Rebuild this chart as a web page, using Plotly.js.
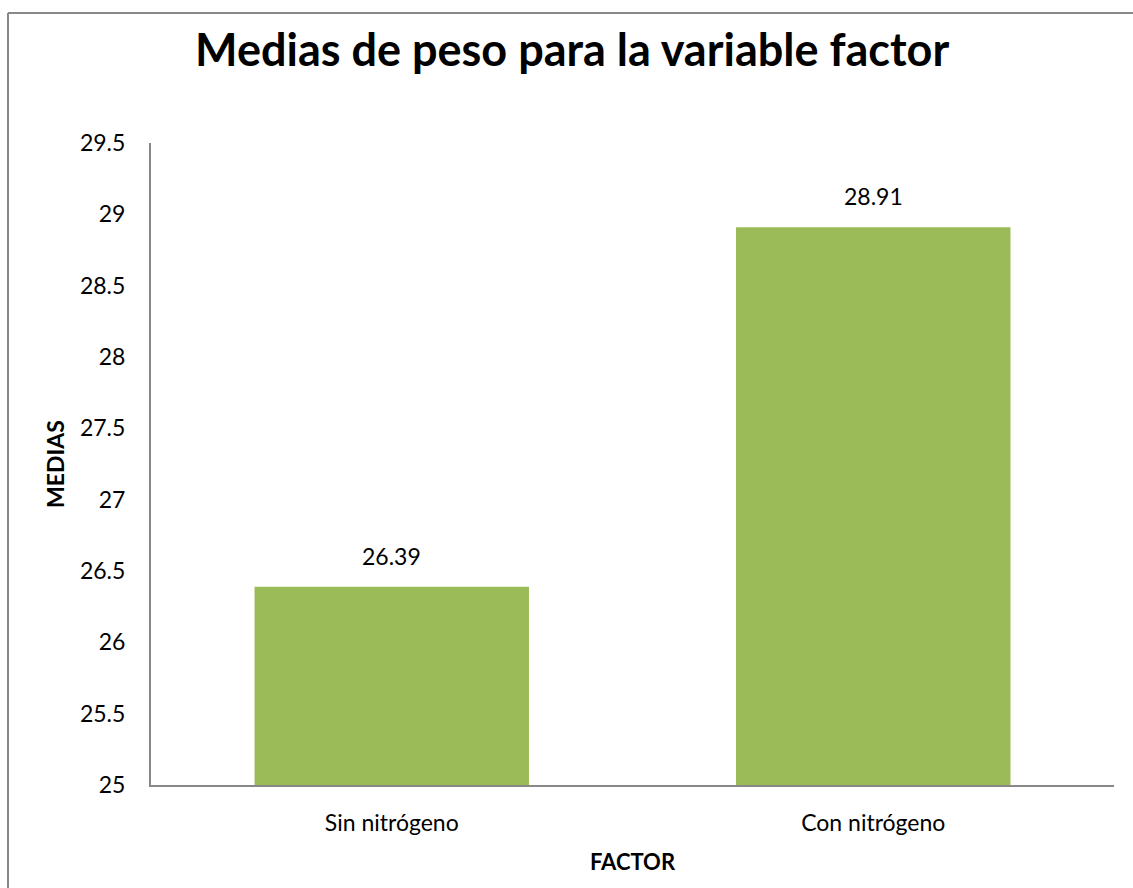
<!DOCTYPE html>
<html>
<head>
<meta charset="utf-8">
<script src="https://cdn.plot.ly/plotly-3.0.1.min.js"></script>
<style>
html,body{margin:0;padding:0;background:#fff;}
#chart{width:1133px;height:888px;}
</style>
</head>
<body>
<div id="chart"></div>
<script>
const categories = ["Sin nitrógeno", "Con nitrógeno"];
const values = [26.39, 28.91];
const labels = ["26.39", "28.91"];
const yTicks = [25, 25.5, 26, 26.5, 27, 27.5, 28, 28.5, 29, 29.5];
const yTickText = ["25", "25.5", "26", "26.5", "27", "27.5", "28", "28.5", "29", "29.5"];
const axisBase = 25;

const FONT = "Lato, 'Open Sans', sans-serif";
const L = 151, R = 19, T = 143, B = 103;
const W = 1133, H = 888;
const pw = W - L - R, ph = H - T - B;
const fx = px => (px - L) / pw;
const fy = py => (H - B - py) / ph;

const trace = {
  type: "bar",
  x: categories,
  y: values.map(v => v - axisBase),
  base: values.map(() => axisBase),
  marker: {color: "#9BBB59"},
  hoverinfo: "skip"
};

const annotations = categories.map((c, i) => ({
  x: c, y: values[i], xref: "x", yref: "y",
  text: labels[i], showarrow: false,
  yanchor: "bottom", yshift: 15,
  font: {family: FONT, size: 23, color: "#000"}
}));

const layout = {
  width: W, height: H,
  margin: {l: L, r: R, t: T, b: B, pad: 0},
  paper_bgcolor: "#fff",
  plot_bgcolor: "#fff",
  showlegend: false,
  bargap: 0.43,
  title: {
    text: "<b>Medias de peso para la variable factor</b>",
    font: {family: FONT, size: 45, color: "#000"},
    x: 0.505, xanchor: "center",
    y: 1 - 50 / H, yanchor: "middle"
  },
  xaxis: {
    type: "category",
    showline: true, linecolor: "#888888", linewidth: 2,
    showgrid: false, zeroline: false, ticks: "",
    ticklabelstandoff: 16,
    tickfont: {family: FONT, size: 23, color: "#000"},
    title: {text: "<b>FACTOR</b>", font: {family: FONT, size: 22, color: "#000"}, standoff: 20}
  },
  yaxis: {
    range: [25, 29.5],
    tickvals: yTicks, ticktext: yTickText,
    showline: true, linecolor: "#888888", linewidth: 2,
    showgrid: false, zeroline: false, ticks: "",
    ticklabelstandoff: 19,
    tickfont: {family: FONT, size: 23, color: "#000"},
    title: {text: "<b>MEDIAS</b>", font: {family: FONT, size: 23, color: "#000"}, standoff: 9}
  },
  annotations: annotations,
  shapes: [
    {type: "line", xref: "paper", yref: "paper", x0: fx(8), x1: fx(1140), y0: fy(13), y1: fy(13), line: {color: "#888888", width: 2}},
    {type: "line", xref: "paper", yref: "paper", x0: fx(8), x1: fx(8), y0: fy(13), y1: fy(900), line: {color: "#888888", width: 2}}
  ]
};

Plotly.newPlot("chart", [trace], layout, {displayModeBar: false, staticPlot: true});
</script>
</body>
</html>
